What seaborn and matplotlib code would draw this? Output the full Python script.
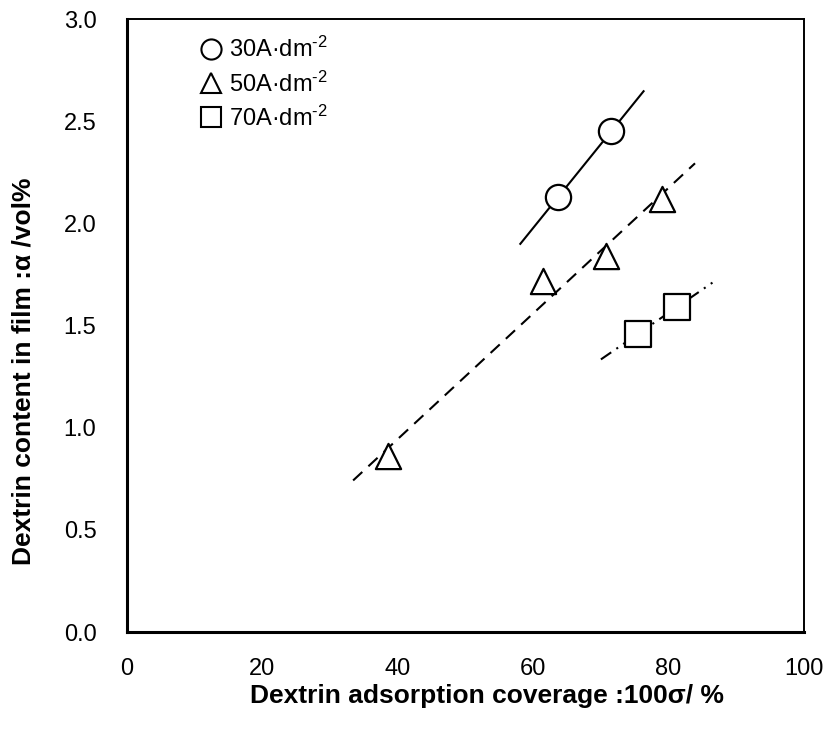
import numpy as np
import pandas as pd
import matplotlib
matplotlib.use("Agg")
import matplotlib.pyplot as plt
import seaborn as sns

sns.set_theme(style="white")
plt.rcParams['font.family'] = ['Liberation Sans', 'DejaVu Sans']
plt.rcParams['mathtext.fontset'] = 'custom'
plt.rcParams['mathtext.rm'] = 'Liberation Sans'
plt.rcParams['mathtext.it'] = 'Liberation Sans:italic'
plt.rcParams['mathtext.bf'] = 'Liberation Sans:bold'
plt.rcParams['text.color'] = 'black'
plt.rcParams['axes.labelcolor'] = 'black'
plt.rcParams['xtick.color'] = 'black'
plt.rcParams['ytick.color'] = 'black'

# data
labels = [r"30A·dm$^{\text{-2}}$", r"50A·dm$^{\text{-2}}$", r"70A·dm$^{\text{-2}}$"]
x30 = [63.7, 71.5]
y30 = [2.13, 2.45]
x50 = [38.5, 61.5, 70.8, 79.0]
y50 = [0.86, 1.72, 1.84, 2.12]
x70 = [75.5, 81.2]
y70 = [1.46, 1.59]
# fitted line x-ranges
fit30_x = [58.0, 76.4]
fit50_x = [33.4, 83.9]
fit70_x = [70.0, 86.6]

xticks = [0, 20, 40, 60, 80, 100]
yticks = [0.0, 0.5, 1.0, 1.5, 2.0, 2.5, 3.0]

fig = plt.figure(figsize=(8.3, 7.35), dpi=100)
ax = fig.add_axes([0.153, 0.140, 0.8157, 0.834])

series = [
    (x30, y30, fit30_x, 'o', (0, ()), labels[0]),
    (x50, y50, fit50_x, '^', (0, (6, 4)), labels[1]),
    (x70, y70, fit70_x, 's', (0, (6, 3, 1, 3, 1, 3)), labels[2]),
]

for xs, ys, fx, mk, ls, lab in series:
    coef = np.polyfit(xs, ys, 1)
    fy = np.polyval(coef, fx)
    sns.lineplot(x=fx, y=fy, ax=ax, color='black', linewidth=1.5,
                 linestyle=ls, legend=False)

handles = []
for xs, ys, fx, mk, ls, lab in series:
    df = pd.DataFrame({'x': xs, 'y': ys})
    sns.scatterplot(data=df, x='x', y='y', ax=ax, marker=mk, s=330,
                    facecolor='white', edgecolor='black', linewidth=1.6,
                    zorder=3, legend=False)
    h, = ax.plot([], [], marker=mk, linestyle='none', markersize=14.5,
                 markerfacecolor='white', markeredgecolor='black',
                 markeredgewidth=1.5, label=lab)
    handles.append(h)

ax.legend(handles=handles, loc='upper left', bbox_to_anchor=(0.095, 0.986),
          frameon=False, fontsize=17, handletextpad=0.3, labelspacing=0.38,
          borderaxespad=0, handlelength=0.9)

ax.set_xlim(0, 100)
ax.set_ylim(0, 3.0)
ax.set_xticks(xticks)
ax.set_yticks(yticks)
ax.set_xticklabels([f"{v:d}" for v in xticks])
ax.set_yticklabels([f"{v:.1f}" for v in yticks])
ax.tick_params(axis='both', direction='in', length=5, width=1.2,
               labelsize=17, colors='black')
ax.tick_params(axis='x', pad=19)
ax.tick_params(axis='y', pad=22)

for side in ['left', 'bottom']:
    ax.spines[side].set_linewidth(2.2)
for side in ['top', 'right']:
    ax.spines[side].set_linewidth(1.4)
for s in ax.spines.values():
    s.set_color('black')
    s.set_visible(True)

ax.set_xlabel("Dextrin adsorption coverage :100σ/ %", fontsize=19,
              fontweight='bold')
ax.set_ylabel("Dextrin content in film :α /vol%", fontsize=19,
              fontweight='bold')
ax.xaxis.set_label_coords(0.532, -0.085)
ax.yaxis.set_label_coords(-0.135, 0.426)

fig.savefig("out.png", dpi=100)
